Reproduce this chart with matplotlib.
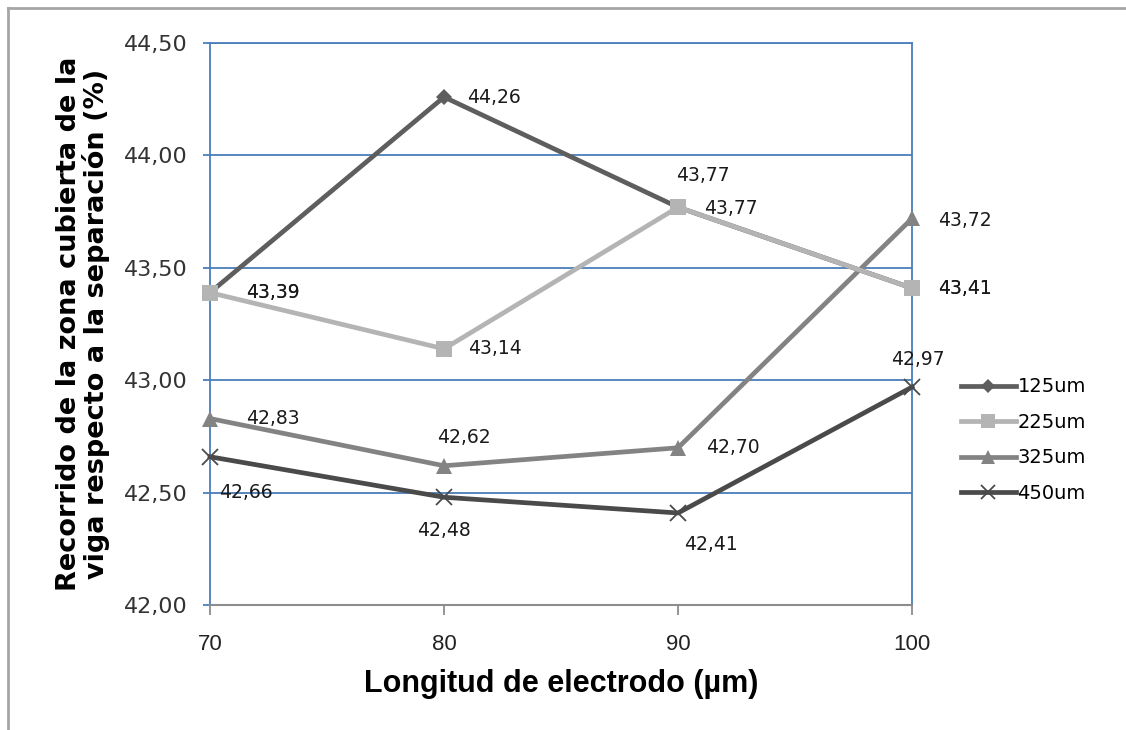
import matplotlib.pyplot as plt
from matplotlib.lines import Line2D

longitud = [70, 80, 90, 100]
series_names = ["125um", "225um", "325um", "450um"]
s125 = [43.39, 44.26, 43.77, 43.41]
s225 = [43.39, 43.14, 43.77, 43.41]
s325 = [42.83, 42.62, 42.70, 43.72]
s450 = [42.66, 42.48, 42.41, 42.97]
y_ticks = [42.0, 42.5, 43.0, 43.5, 44.0, 44.5]

colors = ["#5e5e5e", "#b4b4b4", "#838383", "#4a4a4a"]
markers = ["D", "s", "^", "x"]
msizes = [8, 11.5, 11, 11]

# label centre offsets from each point, in pixels (x right, y down)
offsets_px = [
    [(63, 0), (50, 0), (25, -32), (53, 0)],
    [(63, 0), (51, 0), (53, 1), (53, 0)],
    [(63, 0), (20, -28), (55, 0), (53, 2)],
    [(36, 36), (0, 33), (33, 32), (6, -28)],
]

blue = "#4a7ebb"
px = 72 / 100

fig = plt.figure(figsize=(11.26, 7.30), dpi=100)
ax = fig.add_axes([0.1865, 0.171, 0.6235, 0.770])

data = [s125, s225, s325, s450]
for i, vals in enumerate(data):
    is_x = markers[i] == "x"
    ax.plot(longitud, vals, color=colors[i], lw=3.4, marker=markers[i],
            markersize=msizes[i], markeredgewidth=1.3 if is_x else 0,
            markeredgecolor=colors[i] if is_x else None,
            zorder=3.5 if i == 1 else 3 + i * 0.1, clip_on=False)
    for j, v in enumerate(vals):
        dx, dy = offsets_px[i][j]
        ax.annotate(f"{v:.2f}".replace(".", ","), (longitud[j], v),
                    xytext=(dx * px, -dy * px), textcoords="offset points",
                    ha="center", va="center", fontsize=13.5,
                    family="DejaVu Sans", color="#1a1a1a", zorder=6)

ax.set_xlim(70, 100)
ax.set_ylim(42.0, 44.5)
ax.set_xticks(longitud)
ax.set_xticklabels([str(x) for x in longitud], family="Liberation Sans",
                   fontsize=16, color="#222222")
ax.set_yticks(y_ticks)
ax.set_yticklabels([f"{t:.2f}".replace(".", ",") for t in y_ticks],
                   family="DejaVu Sans", fontsize=16, color="#333333")
ax.yaxis.grid(True, color=blue, lw=1.3)
ax.set_axisbelow(True)

for side in ["left", "right", "top"]:
    ax.spines[side].set_color(blue)
    ax.spines[side].set_linewidth(1.3)
ax.spines["bottom"].set_color("#8c8c8c")
ax.spines["bottom"].set_linewidth(1.5)
ax.tick_params(axis="y", length=5, color=blue, width=1.3, pad=11)
ax.tick_params(axis="x", length=7, color="#8c8c8c", width=1.3, pad=14)

ax.set_xlabel("Longitud de electrodo (µm)", family="Liberation Sans",
              fontweight="bold", fontsize=22, labelpad=10)
ax.set_ylabel("Recorrido de la zona cubierta de la\nviga respecto a la separación (%)",
              family="DejaVu Sans", fontweight="bold", fontsize=19.5,
              labelpad=10, linespacing=1.0)

handles = [Line2D([], [], color=colors[i], lw=3.4, marker=markers[i],
                  markersize=msizes[i] - 1,
                  markeredgewidth=1.3 if markers[i] == "x" else 0,
                  markeredgecolor=colors[i] if markers[i] == "x" else None)
           for i in range(4)]
leg = fig.legend(handles, series_names, loc="upper left",
                 bbox_to_anchor=(0.838, 0.507), frameon=False,
                 prop={"family": "DejaVu Sans", "size": 14},
                 handlelength=2.8, handletextpad=0.1, labelspacing=0.85)

# outer chart frame
fig.add_artist(Line2D([8 / 1126, 1], [1 - 8 / 730, 1 - 8 / 730],
                      color="#a6a6a6", lw=2, transform=fig.transFigure))
fig.add_artist(Line2D([8 / 1126, 8 / 1126], [0, 1 - 8 / 730],
                      color="#a6a6a6", lw=2, transform=fig.transFigure))

fig.savefig("out.png", dpi=100)
